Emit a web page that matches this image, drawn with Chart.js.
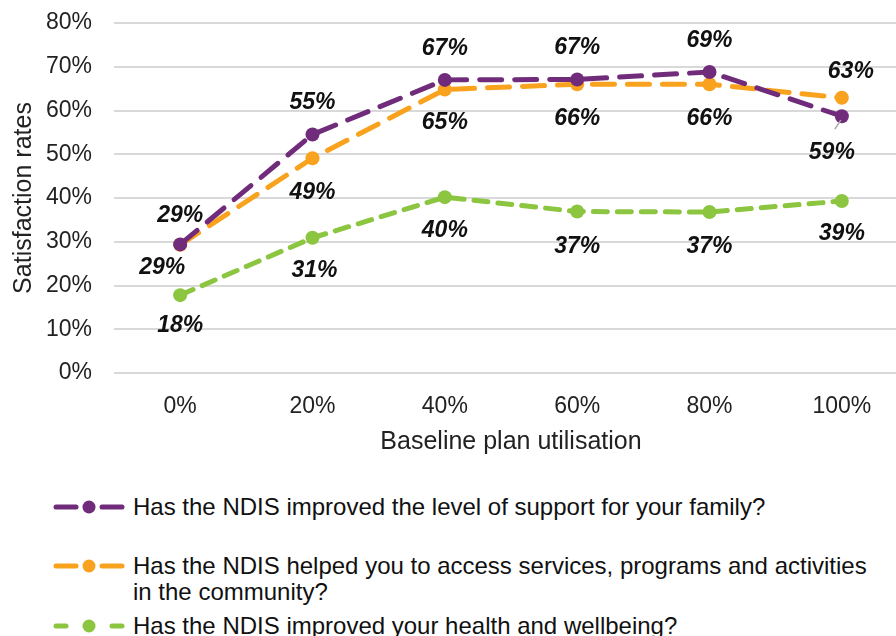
<!DOCTYPE html>
<html>
<head>
<meta charset="utf-8">
<script src="https://cdn.jsdelivr.net/npm/chart.js@4"></script>
<style>
  html, body { margin: 0; padding: 0; background: #fff; overflow: hidden; }
  body { width: 896px; height: 636px; position: relative; font-family: "Liberation Sans", Arial, sans-serif; }
  #wrap { position: absolute; left: 0; top: 0; width: 908px; height: 460px; }
  .leg { position: absolute; left: 53px; font-size: 24px; line-height: 26px; color: #111; }
  .leg svg { position: absolute; left: 0; top: 6px; }
  .leg span { display: block; margin-left: 80px; width: 745px; }
</style>
</head>
<body>
<div id="wrap"><canvas id="myChart" width="908" height="460"></canvas></div>
<div id="legend"></div>
<script>
// x categories and series
const utilisation = ["0%", "20%", "40%", "60%", "80%", "100%"];
const familySupport = [29.4, 54.5, 67.0, 67.1, 68.8, 58.7];
const accessServices = [29.3, 49.1, 64.8, 66.0, 66.0, 62.9];
const healthWellbeing = [17.8, 30.9, 40.2, 36.9, 36.8, 39.3];

const seriesNames = [
  "Has the NDIS improved the level of support for your family?",
  "Has the NDIS helped you to access services, programs and activities in the community?",
  "Has the NDIS improved your health and wellbeing?",
];

const purple = "#702C7A";
const orange = "#F9A21E";
const green = "#8CC540";

// where each value label sits relative to its point [dx, dy]
const labelOffsets = [
  [[0, -29], [0, -32], [0, -31], [0, -32], [0, -31], [-10, 36]],
  [[-18, 23], [0, 34], [0, 33], [0, 34], [0, 34], [9, -26]],
  [[0, 31], [2, 33], [0, 34], [0, 35], [0, 35], [0, 33]],
];

const valueLabels = {
  id: "valueLabels",
  afterDatasetsDraw(chart) {
    const ctx = chart.ctx;
    ctx.save();
    ctx.font = "italic bold 23px 'Liberation Sans', Arial";
    ctx.fillStyle = "#111";
    ctx.textAlign = "center";
    ctx.textBaseline = "middle";
    chart.data.datasets.forEach((ds, di) => {
      const meta = chart.getDatasetMeta(di);
      meta.data.forEach((pt, i) => {
        const off = labelOffsets[di][i];
        const x = pt.x + off[0];
        const y = pt.y + off[1];
        // tiny leader line for the label pushed away from its point
        if (di === 0 && i === 5) {
          ctx.strokeStyle = "#a6a6a6";
          ctx.lineWidth = 1.5;
          ctx.beginPath();
          ctx.moveTo(pt.x - 1, pt.y + 4);
          ctx.lineTo(pt.x - 7, pt.y + 13);
          ctx.stroke();
        }
        ctx.fillText(Math.round(ds.data[i]) + "%", x, y);
      });
    });
    ctx.restore();
  },
};

const ctx = document.getElementById("myChart").getContext("2d");
const mainChart = new Chart(ctx, {
  type: "line",
  data: {
    labels: utilisation,
    datasets: [
      { label: seriesNames[0], data: familySupport, borderColor: purple, backgroundColor: purple, borderDash: [22, 13] },
      { label: seriesNames[1], data: accessServices, borderColor: orange, backgroundColor: orange, borderDash: [22, 13] },
      { label: seriesNames[2], data: healthWellbeing, borderColor: green, backgroundColor: green, borderDash: [14, 10] },
    ].map((d) => Object.assign(d, {
      borderWidth: 5,
      borderCapStyle: "round",
      pointRadius: 7,
      pointBorderWidth: 0,
      tension: 0,
      fill: false,
    })),
  },
  options: {
    responsive: false,
    animation: false,
    layout: { padding: { top: 23, right: 0, bottom: 0, left: 0 }, autoPadding: false },
    plugins: { legend: { display: false }, tooltip: { enabled: false } },
    scales: {
      x: {
        offset: true,
        grid: { display: false },
        border: { display: false },
        ticks: { color: "#222", padding: 12, font: { family: "'Liberation Sans', Arial", size: 23 } },
        title: {
          display: true,
          text: "Baseline plan utilisation",
          color: "#222",
          padding: { top: 4, bottom: 3 },
          font: { family: "'Liberation Sans', Arial", size: 25 },
        },
        afterFit(scale) { scale.height = 87; },
      },
      y: {
        min: 0,
        max: 80,
        ticks: {
          stepSize: 10,
          color: "#222",
          padding: 22,
          font: { family: "'Liberation Sans', Arial", size: 23 },
          callback: (v) => v + "%",
        },
        grid: { color: "#d9d9d9", lineWidth: 2, drawTicks: false },
        border: { display: false },
        title: {
          display: true,
          text: "Satisfaction rates",
          color: "#222",
          padding: { top: 9, bottom: 0 },
          font: { family: "'Liberation Sans', Arial", size: 25 },
        },
        afterFit(scale) {
          scale.width = 114;
          scale.paddingTop = 0;
          scale.paddingBottom = 0;
        },
      },
    },
  },
  plugins: [valueLabels],
});

// legend below, laid out like the original (wrapped text, left aligned)
const legendTops = [494, 553, 613];
const swatchDash = [[3, 23, 49, 69], [3, 23, 49, 69], [3, 13, 59, 69]];
const legendColors = [purple, orange, green];
const legendEl = document.getElementById("legend");
seriesNames.forEach((name, i) => {
  const d = swatchDash[i];
  const c = legendColors[i];
  const item = document.createElement("div");
  item.className = "leg";
  item.style.top = legendTops[i] + "px";
  item.innerHTML =
    '<svg width="72" height="14">' +
    '<line x1="' + d[0] + '" y1="7" x2="' + d[1] + '" y2="7" stroke="' + c + '" stroke-width="5" stroke-linecap="round"/>' +
    '<line x1="' + d[2] + '" y1="7" x2="' + d[3] + '" y2="7" stroke="' + c + '" stroke-width="5" stroke-linecap="round"/>' +
    '<circle cx="36" cy="7" r="6.5" fill="' + c + '"/></svg>' +
    "<span>" + name + "</span>";
  legendEl.appendChild(item);
});
</script>
</body>
</html>
